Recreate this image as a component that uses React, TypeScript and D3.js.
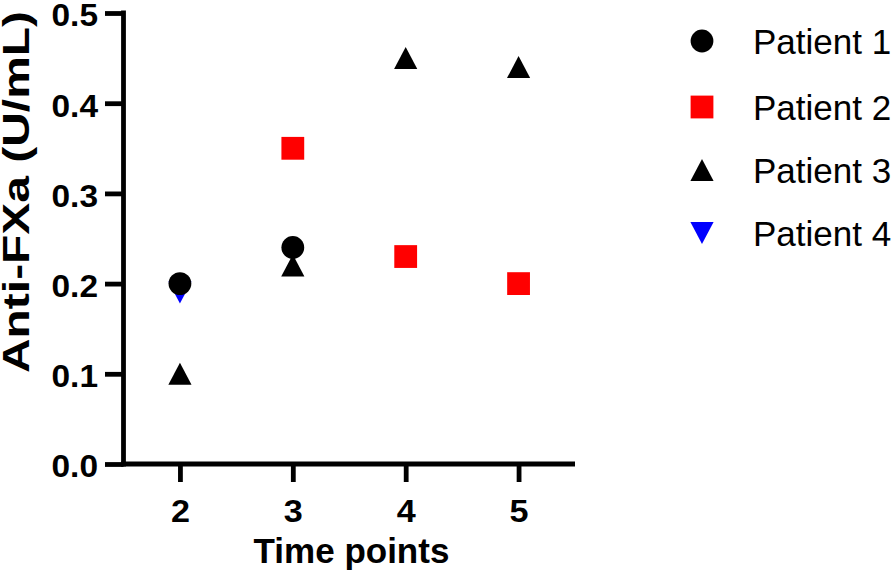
import React, { useEffect, useRef } from 'react';
import * as d3 from 'd3';

const timePoints = [2, 3, 4, 5];
const patientNames = ['Patient 1', 'Patient 2', 'Patient 3', 'Patient 4'];
// values per time point (null = not measured)
const patient1 = [0.2, 0.24, null, null];
const patient2 = [null, 0.35, 0.23, 0.2];
const patient3 = [0.1, 0.22, 0.45, 0.44];
const patient4 = [0.19, null, null, null];
const yTicks = [0, 0.1, 0.2, 0.3, 0.4, 0.5];

const series = [patient1, patient2, patient3, patient4];
const shapes = ['circle', 'square', 'triangle', 'triangleDown'];
const colors = ['#000000', '#ff0000', '#000000', '#0000ff'];

const FONT = '"Liberation Sans", Arial, Helvetica, sans-serif';

// marker path centred on 0,0 (bounding-box centre)
const markerPath = (shape: string) => {
  const s = 11.4;
  const w = 11.6, h = 11;
  if (shape === 'circle') return `M${-s},0A${s},${s} 0 1,1 ${s},0A${s},${s} 0 1,1 ${-s},0Z`;
  if (shape === 'square') return `M${-s},${-s}H${s}V${s}H${-s}Z`;
  if (shape === 'triangle') return `M0,${-h}L${w},${h}L${-w},${h}Z`;
  return `M0,${h}L${w},${-h}L${-w},${-h}Z`;
};

const ScatterChart = () => {
  const ref = useRef<SVGSVGElement>(null);

  useEffect(() => {
    const svg = d3.select(ref.current);
    svg.selectAll('*').remove();

    const x = d3.scaleLinear().domain([1.5, 5.5]).range([123.5, 575]);
    const y = d3.scaleLinear().domain([0, 0.5]).range([464, 13]);

    // y axis
    const yAxis = svg.append('g')
      .attr('transform', 'translate(123.5,0)')
      .call(d3.axisLeft(y).tickValues(yTicks).tickSize(18.5).tickSizeOuter(0).tickPadding(7).tickFormat(d3.format('.1f')));
    yAxis.select('.domain').remove();
    yAxis.selectAll('.tick line').attr('stroke', '#000').attr('stroke-width', 4.8);
    yAxis.selectAll('.tick text')
      .attr('fill', '#000')
      .attr('dy', '0.42em')
      .attr('textLength', 46.5)
      .attr('lengthAdjust', 'spacingAndGlyphs')
      .style('font-family', FONT)
      .style('font-weight', 'bold')
      .style('font-size', '30.5px');

    // x axis
    const xAxis = svg.append('g')
      .attr('transform', 'translate(0,464)')
      .call(d3.axisBottom(x).tickValues(timePoints).tickSize(18).tickSizeOuter(0).tickFormat(d3.format('d')));
    xAxis.select('.domain').remove();
    xAxis.selectAll('.tick line').attr('stroke', '#000').attr('stroke-width', 4.8);
    xAxis.selectAll('.tick text')
      .attr('fill', '#000')
      .attr('y', 57.7)
      .attr('dy', 0)
      .attr('textLength', 19)
      .attr('lengthAdjust', 'spacingAndGlyphs')
      .style('font-family', FONT)
      .style('font-weight', 'bold')
      .style('font-size', '30.5px');

    // axis lines
    svg.append('line')
      .attr('x1', 123.5).attr('x2', 123.5)
      .attr('y1', y(0.5) - 2.5).attr('y2', y(0) + 2.4)
      .attr('stroke', '#000').attr('stroke-width', 4.8);
    svg.append('line')
      .attr('x1', 121).attr('x2', 575)
      .attr('y1', y(0)).attr('y2', y(0))
      .attr('stroke', '#000').attr('stroke-width', 4.8);

    // axis titles
    svg.append('text')
      .attr('x', 351.5).attr('y', 563)
      .attr('text-anchor', 'middle')
      .style('font-family', FONT)
      .style('font-weight', 'bold')
      .style('font-size', '35px')
      .text('Time points');

    svg.append('text')
      .attr('transform', 'translate(29,192) rotate(-90)')
      .attr('text-anchor', 'middle')
      .attr('textLength', 362)
      .attr('lengthAdjust', 'spacingAndGlyphs')
      .style('font-family', FONT)
      .style('font-weight', 'bold')
      .style('font-size', '37px')
      .text('Anti-FXa (U/mL)');

    // points: last series drawn first so Patient 1 sits on top
    for (let i = series.length - 1; i >= 0; i--) {
      const pts = timePoints
        .map((t, j) => ({ t, v: series[i][j] }))
        .filter(d => d.v !== null);
      svg.append('g')
        .selectAll('path')
        .data(pts)
        .join('path')
        .attr('d', markerPath(shapes[i]))
        .attr('transform', d => `translate(${x(d.t)},${y(d.v as number)})`)
        .attr('fill', colors[i]);
    }

    // legend
    const legendY = [41, 107, 170, 233];
    const legend = svg.append('g');
    patientNames.forEach((name, i) => {
      legend.append('path')
        .attr('d', markerPath(shapes[i]))
        .attr('transform', `translate(702,${legendY[i]})`)
        .attr('fill', colors[i]);
      legend.append('text')
        .attr('x', 753)
        .attr('y', legendY[i] + 12.5)
        .style('font-family', FONT)
        .style('font-size', '35px')
        .text(name);
    });
  }, []);

  return (
    <svg
      ref={ref}
      width={895}
      height={584}
      style={{ position: 'absolute', left: 0, top: 0, background: '#fff' }}
    />
  );
};

export default function App() {
  return <ScatterChart />;
}
